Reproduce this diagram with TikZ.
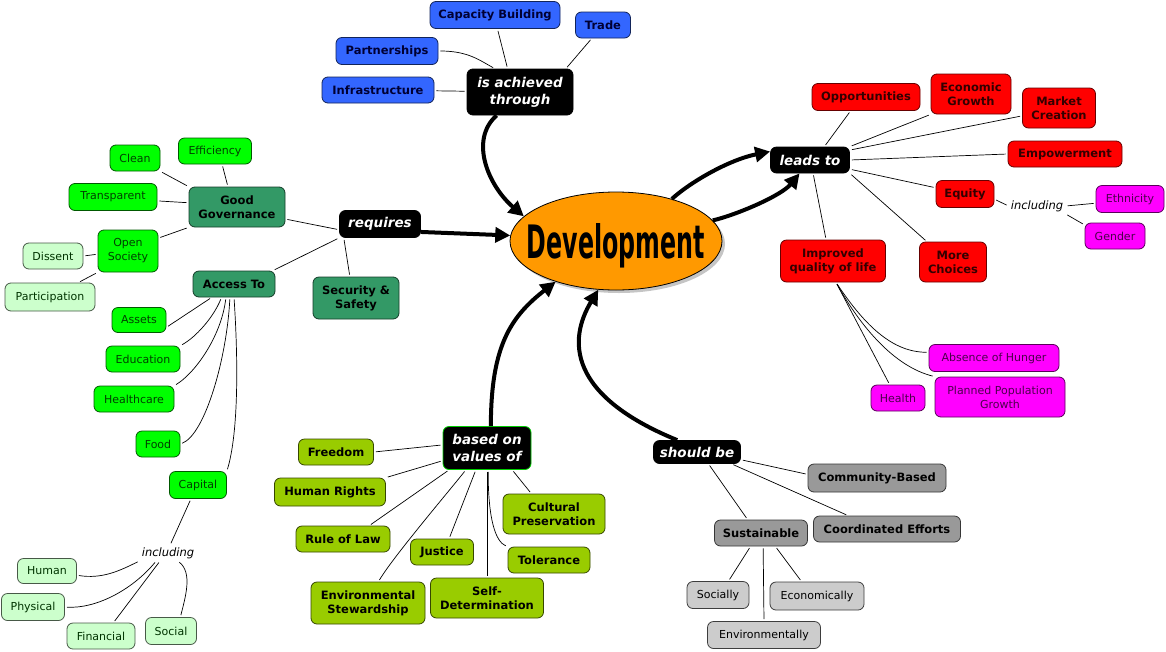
\documentclass[tikz,border=0pt]{standalone}
\usepackage{fontspec}
\setmainfont{DejaVu Sans}
\newfontfamily\devfont{DejaVu Sans Condensed}
\usepackage{graphicx}
\usetikzlibrary{arrows.meta,shapes.geometric,shadows}

\definecolor{achblue}{HTML}{3366FF}
\definecolor{govgreen}{HTML}{339966}
\definecolor{brgreen}{HTML}{00FF00}
\definecolor{palegreen}{HTML}{CCFFCC}
\definecolor{leadred}{HTML}{FF0000}
\definecolor{pinkish}{HTML}{FF00FF}
\definecolor{valolive}{HTML}{99CC00}
\definecolor{sustgray}{HTML}{999999}
\definecolor{palegray}{HTML}{CCCCCC}
\definecolor{devorange}{HTML}{FF9900}

\begin{document}
\begin{tikzpicture}[x=1pt,y=-1pt,line width=0.7pt]
\tikzstyle{box}=[draw,rounded corners=6pt,line width=0.8pt,minimum height=26pt,inner sep=2pt,align=center];
\tikzstyle{verb}=[box,fill=black,text=white,font=\fontsize{13.5}{17}\selectfont\bfseries\itshape];
\tikzstyle{bluebox}=[box,fill=achblue,draw=achblue!35!black,text=black!80!blue,font=\fontsize{11.5}{14}\selectfont\bfseries];
\tikzstyle{govbox}=[box,fill=govgreen,draw=govgreen!40!black,font=\fontsize{11.5}{14}\selectfont\bfseries];
\tikzstyle{greenbox}=[box,fill=brgreen,draw=brgreen!35!black,text=black!75!green,font=\fontsize{11}{14}\selectfont];
\tikzstyle{palebox}=[box,fill=palegreen,draw=palegreen!35!black,text=black!80!green,font=\fontsize{11}{14}\selectfont];
\tikzstyle{redbox}=[box,fill=leadred,draw=leadred!40!black,text=black!80!red,font=\fontsize{11.5}{14}\selectfont\bfseries];
\tikzstyle{pinkbox}=[box,fill=pinkish,draw=pinkish!35!black,text=black!70!pinkish,font=\fontsize{11}{14}\selectfont];
\tikzstyle{olivebox}=[box,fill=valolive,draw=valolive!35!black,font=\fontsize{11.5}{14}\selectfont\bfseries];
\tikzstyle{graybox}=[box,fill=sustgray,draw=sustgray!35!black,font=\fontsize{11.5}{14}\selectfont\bfseries];
\tikzstyle{palegraybox}=[box,fill=palegray,draw=palegray!30!black,font=\fontsize{11}{14}\selectfont];
\tikzstyle{incl}=[inner sep=2pt,font=\fontsize{11.5}{14}\selectfont\itshape];
\tikzstyle{devnode}=[ellipse,draw,line width=0.8pt,fill=devorange,minimum width=212,minimum height=98,inner xsep=-16pt,inner ysep=0pt,text depth=0pt,drop shadow={shadow xshift=3pt,shadow yshift=-3pt,fill=black!45}];
\tikzstyle{link}=[line width=0.7pt,shorten <=2pt,shorten >=2pt];
\tikzstyle{flow}=[line width=4pt,-{Triangle[length=15pt,width=15pt]}];

\path [fill=white,use as bounding box] (0,0) rectangle (1166,651);

% centre
\node [devnode] (dev) at (616,241) {\resizebox{178pt}{35pt}{\devfont\bfseries Development}};

% is achieved through
\node [verb,minimum width=106,minimum height=46] (achieved) at (520,92) {is achieved\\through};
\node [bluebox,minimum width=130,minimum height=27] (capbuild) at (495,15) {Capacity Building};
\node [bluebox,minimum width=55] (trade) at (603,25) {Trade};
\node [bluebox,minimum width=102,minimum height=27] (partner) at (387,51) {Partnerships};
\node [bluebox,minimum width=112] (infra) at (378,90) {Infrastructure};

% requires
\node [verb,minimum width=81,minimum height=27] (requires) at (380,224) {requires};
\node [govbox,minimum width=96,minimum height=40] (govern) at (237,207) {Good\\Governance};
\node [greenbox,minimum width=73] (effic) at (215,151) {Efficiency};
\node [greenbox,minimum width=50] (clean) at (135,158) {Clean};
\node [greenbox,minimum width=88,minimum height=27] (transp) at (113,197) {Transparent};
\node [greenbox,minimum width=60,minimum height=42] (opensoc) at (128,251) {Open\\Society};
\node [palebox,minimum width=60] (dissent) at (53,256) {Dissent};
\node [palebox,minimum width=90,minimum height=28] (particip) at (50,297) {Participation};
\node [govbox,minimum width=82] (access) at (234,284) {Access To};
\node [govbox,minimum width=86,minimum height=42] (security) at (356,298) {Security \&\\Safety};
\node [greenbox,minimum width=54,minimum height=25] (assets) at (139,320) {Assets};
\node [greenbox,minimum width=74] (educ) at (143,359) {Education};
\node [greenbox,minimum width=80] (healthc) at (134,399) {Healthcare};
\node [greenbox,minimum width=44] (food) at (158,444) {Food};
\node [greenbox,minimum width=57,minimum height=27] (capital) at (198,485) {Capital};
\node [incl] (incl1) at (168,553) {including};
\node [palebox,minimum width=59,minimum height=25] (human) at (47,571) {Human};
\node [palebox,minimum width=63,minimum height=27] (physical) at (33,607) {Physical};
\node [palebox,minimum width=68] (financial) at (101,636) {Financial};
\node [palebox,minimum width=51,minimum height=27] (social) at (171,631) {Social};

% leads to
\node [verb,minimum width=79] (leads) at (810,160) {leads to};
\node [redbox,minimum width=108,minimum height=27] (opport) at (866,97) {Opportunities};
\node [redbox,minimum width=80,minimum height=40] (econ) at (971,94) {Economic\\Growth};
\node [redbox,minimum width=73,minimum height=40] (market) at (1059,108) {Market\\Creation};
\node [redbox,minimum width=114] (empower) at (1065,154) {Empowerment};
\node [redbox,minimum width=58,minimum height=27] (equity) at (965,194) {Equity};
\node [incl] (incl2) at (1037,206) {including};
\node [pinkbox,minimum width=68,minimum height=27] (ethnic) at (1130,199) {Ethnicity};
\node [pinkbox,minimum width=60] (gender) at (1115,236) {Gender};
\node [redbox,minimum width=67,minimum height=40] (choices) at (953,262) {More\\Choices};
\node [redbox,minimum width=105,minimum height=42] (quality) at (833,261) {Improved\\quality of life};
\node [pinkbox,minimum width=130,minimum height=27] (hunger) at (994,358) {Absence of Hunger};
\node [pinkbox,minimum width=130,minimum height=40] (population) at (1000,397) {Planned Population\\Growth};
\node [pinkbox,minimum width=54] (health) at (898,398) {Health};

% based on values of
\node [verb,draw=green!80!black,minimum width=88,minimum height=43] (values) at (487,448) {based on\\values of};
\node [olivebox,minimum width=75] (freedom) at (336,452) {Freedom};
\node [olivebox,minimum width=111,minimum height=28] (rights) at (330,492) {Human Rights};
\node [olivebox,minimum width=94] (law) at (343,539) {Rule of Law};
\node [olivebox,minimum width=63] (justice) at (442,552) {Justice};
\node [olivebox,minimum width=114,minimum height=42] (environ) at (368,603) {Environmental\\Stewardship};
\node [olivebox,minimum width=113,minimum height=40] (selfdet) at (487,598) {Self-\\Determination};
\node [olivebox,minimum width=102,minimum height=40] (cultural) at (554,514) {Cultural\\Preservation};
\node [olivebox,minimum width=82] (tolerance) at (549,560) {Tolerance};

% should be
\node [verb,minimum width=87,minimum height=23] (should) at (697,452) {should be};
\node [graybox,minimum width=138,minimum height=28] (community) at (877,478) {Community-Based};
\node [graybox,minimum width=147] (coordinated) at (887,529) {Coordinated Efforts};
\node [graybox,minimum width=93] (sustain) at (761,533) {Sustainable};
\node [palegraybox,minimum width=62,minimum height=27] (socially) at (718,595) {Socially};
\node [palegraybox,minimum width=94,minimum height=28] (economically) at (817,596) {Economically};
\node [palegraybox,minimum width=113,minimum height=27] (environmentally) at (764,635) {Environmentally};

% links
\draw [link] (achieved.118) -- (capbuild.-80);
\draw [link] (achieved.27) -- (trade.-130);
\draw [link] (partner.east) .. controls +(30,0) and +(-15,-8) .. (achieved.137);
\draw [link] (infra) -- (achieved);

\draw [link] (requires.188) -- (govern.-14);
\draw [link] (requires.south west) -- (access.19);
\draw [link] (requires.201) -- (security.106);
\draw [link] (govern.114) -- (effic.-62);
\draw [link] (govern.north west) -- (clean.south east);
\draw [link] (govern.175) -- (transp.-5);
\draw [link] (govern.south west) -- (opensoc.23);
\draw [link] (opensoc.-174) -- (dissent.east);
\draw [link] (opensoc.south west) -- (particip.27);

\draw [link] (access.-149) -- (assets.-15);
\draw [link] (access.-133) .. controls +(-8,20) and +(15,-8) .. (educ.north east);
\draw [link] (access.-121) .. controls +(-5,40) and +(20,-12) .. (healthc.north east);
\draw [link] (access.-107) .. controls +(-3,60) and +(25,-10) .. (food.east);
\draw [link] (access.south) .. controls +(4,60) and +(12,-40) .. (capital.north east);
\draw [link] (capital.-117) -- (incl1.75);
\draw [link] (incl1.south west) .. controls +(-20,10) and +(25,4) .. (human.-8);
\draw [link] (incl1.-146) .. controls +(-25,30) and +(30,2) .. (physical.east);
\draw [link] (incl1.-135) -- (financial.47);
\draw [link] (incl1.-39) .. controls +(15,12) and +(5,-20) .. (social.56);

\draw [link] (leads.43) -- (opport.-138);
\draw [link] (leads.north east) -- (econ.south west);
\draw [link] (leads.14) -- (market.192);
\draw [link] (leads.east) -- (empower.west);
\draw [link] (leads.-13) -- (equity.168);
\draw [link] (leads.south east) -- (choices.142);
\draw [link] (leads.-77) -- (quality.108);
\draw [link] (equity.-10) -- (incl2.west);
\draw [link] (incl2.east) -- (ethnic.-173);
\draw [link] (incl2.south east) -- (gender.160);
\draw [link] (quality.-82) .. controls +(30,45) and +(-35,0) .. (hunger.175);
\draw [link] (quality.-82) .. controls +(25,45) and +(-40,-10) .. (population.north west);
\draw [link] (quality.-82) -- (health.122);

\draw [link] (values.176) -- (freedom.east);
\draw [link] (values.196) -- (rights.north east);
\draw [link] (values.-150) -- (law.27);
\draw [link] (values.-134) .. controls +(-20,25) and +(15,-25) .. (environ.64);
\draw [link] (values.-117) -- (justice.62);
\draw [link] (values.south) -- (selfdet.north);
\draw [link] (values.-87) .. controls +(0,50) and +(-12,-5) .. (tolerance.north west);
\draw [link] (values.-41) -- (cultural.138);

\draw [link] (should.-10) -- (community.177);
\draw [link] (should.-19) -- (coordinated.161);
\draw [link] (should.-46) -- (sustain.135);
\draw [link] (sustain.-128) -- (socially.53);
\draw [link] (sustain.-81) -- (environmentally.north);
\draw [link] (sustain.-43) -- (economically.137);

% thick arrows into and out of the centre
\draw [flow] (achieved.-135) .. controls +(-28,25) and +(-35,-30) .. (dev.165);
\draw [flow] (requires.-11) -- (dev.177);
\draw [flow] (dev.37) .. controls +(20,-18) and +(-40,8) .. (leads.168);
\draw [flow] (dev.12) .. controls +(25,-6) and +(-18,22) .. (leads.-128);
\draw [flow] (values.80) .. controls +(0,-80) and +(-45,35) .. (dev.-146);
\draw [flow] (should.149) .. controls +(-110,-45) and +(-30,50) .. (dev.-110);
\end{tikzpicture}
\end{document}
